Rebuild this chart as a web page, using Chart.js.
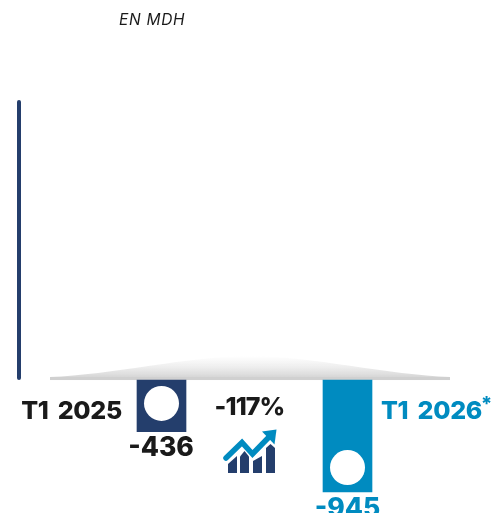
<!DOCTYPE html>
<html>
<head>
<meta charset="utf-8">
<title>EN MDH</title>
<script src="https://cdn.jsdelivr.net/npm/chart.js@4/dist/chart.umd.min.js"></script>
<style>
html, body { margin: 0; padding: 0; background: #fff; overflow: hidden; }
canvas { display: block; }
</style>
</head>
<body>
<canvas id="chart" width="503" height="513"></canvas>
<script>
'use strict';
var categories = ['T1 2025', 'T1 2026'];
var values = [-436, -945];
var valueLabels = ['-436', '-945'];
var unitLabel = 'EN MDH';
var changeLabel = '-117%';
var footnoteMark = '*';

var NAVY = '#243e6c';
var BLUE = '#008bc0';
var INK = '#1a1a1a';
var FONT = 'Inter, "Open Sans", sans-serif';

function text(ctx, str, x, y, font, color, align, spacing, wordSpacing) {
    ctx.font = font;
    ctx.fillStyle = color;
    ctx.textAlign = align || 'center';
    ctx.textBaseline = 'alphabetic';
    ctx.letterSpacing = spacing || '0px';
    ctx.wordSpacing = wordSpacing || '0px';
    ctx.fillText(str, x, y);
}

// grey lens sitting on the zero line, under the bars
var baselinePlugin = {
    id: 'baseline',
    beforeDatasetsDraw: function (chart) {
        var ctx = chart.ctx;
        var y0 = chart.scales.y.getPixelForValue(0);
        var grad = ctx.createLinearGradient(0, y0 - 24, 0, y0);
        grad.addColorStop(0, 'rgba(235,235,235,0)');
        grad.addColorStop(0.45, 'rgba(232,232,232,0.75)');
        grad.addColorStop(0.85, 'rgba(216,216,216,1)');
        grad.addColorStop(1, 'rgba(208,208,208,1)');
        ctx.save();
        ctx.fillStyle = grad;
        ctx.beginPath();
        ctx.moveTo(50, y0 - 3);
        ctx.bezierCurveTo(110, y0 - 5, 190, y0 - 24, 250, y0 - 24);
        ctx.bezierCurveTo(310, y0 - 24, 390, y0 - 5, 450, y0 - 3);
        ctx.lineTo(450, y0);
        ctx.lineTo(50, y0);
        ctx.closePath();
        ctx.fill();
        ctx.fillStyle = 'rgba(208,208,208,1)';
        ctx.fillRect(50, y0 - 3, 400, 3);
        ctx.restore();
    }
};

var decorPlugin = {
    id: 'decor',
    afterDatasetsDraw: function (chart) {
        var ctx = chart.ctx;
        var bars = chart.getDatasetMeta(0).data;
        var y = chart.scales.y;
        var y0 = y.getPixelForValue(0);
        ctx.save();

        // vertical axis
        ctx.strokeStyle = NAVY;
        ctx.lineWidth = 4;
        ctx.lineCap = 'round';
        ctx.beginPath();
        ctx.moveTo(19, chart.chartArea.top + 2);
        ctx.lineTo(19, y0 - 2);
        ctx.stroke();

        // white circles inside the bars
        var offsets = [28.3, 24.5];
        ctx.fillStyle = '#fff';
        bars.forEach(function (bar, i) {
            ctx.beginPath();
            ctx.arc(bar.x, bar.y - offsets[i], 17.5, 0, Math.PI * 2);
            ctx.fill();
        });

        // labels
        var bold = '800 25px ' + FONT;
        var big = '800 26.5px ' + FONT;
        text(ctx, unitLabel, 119, 25, 'italic 400 15.5px ' + FONT, INK, 'left', '0.7px');
        text(ctx, categories[0], 122, 419, bold, INK, 'right', '-0.3px', '4px');
        text(ctx, categories[1], 381, 419, bold, BLUE, 'left', '-0.3px', '4px');
        text(ctx, footnoteMark, 486.5, 411, '800 20px ' + FONT, BLUE);
        text(ctx, changeLabel, 249.5, 415, bold, INK, 'center', '-0.9px');
        text(ctx, valueLabels[0], bars[0].x - 0.5, 456, big, INK);
        text(ctx, valueLabels[1], bars[1].x, 517, big, BLUE);

        // trend icon
        ctx.letterSpacing = '0px';
        ctx.fillStyle = NAVY;
        [
            [[228, 464], [237, 456], [237, 473], [228, 473]],
            [[240, 456.5], [244.5, 451], [249, 456.5], [249, 473], [240, 473]],
            [[253, 461], [262, 456], [262, 473], [253, 473]],
            [[266, 448], [270.5, 444], [275, 448], [275, 473], [266, 473]]
        ].forEach(function (shape) {
            ctx.beginPath();
            shape.forEach(function (p, i) {
                if (i === 0) { ctx.moveTo(p[0], p[1]); } else { ctx.lineTo(p[0], p[1]); }
            });
            ctx.closePath();
            ctx.fill();
        });
        ctx.strokeStyle = BLUE;
        ctx.lineWidth = 5.5;
        ctx.lineCap = 'round';
        ctx.lineJoin = 'miter';
        ctx.beginPath();
        ctx.moveTo(226, 458);
        ctx.lineTo(242, 442.5);
        ctx.lineTo(252.5, 454);
        ctx.lineTo(270, 436);
        ctx.stroke();
        ctx.fillStyle = BLUE;
        ctx.beginPath();
        ctx.moveTo(276.5, 429.5);
        ctx.lineTo(262, 431.5);
        ctx.lineTo(274.5, 444.5);
        ctx.closePath();
        ctx.fill();

        ctx.restore();
    }
};

var chart = new Chart(document.getElementById('chart'), {
    type: 'bar',
    data: {
        labels: categories,
        datasets: [{
            data: values,
            backgroundColor: [NAVY, BLUE],
            borderWidth: 0,
            barThickness: 49
        }]
    },
    options: {
        responsive: false,
        animation: false,
        layout: { padding: { left: 68.5, right: 62.5, top: 100, bottom: 0 } },
        plugins: { legend: { display: false }, title: { display: false }, tooltip: { enabled: false } },
        scales: {
            x: { display: false },
            y: { display: false, min: -1122, max: 2363 }
        }
    },
    plugins: [baselinePlugin, decorPlugin]
});
</script>
</body>
</html>
